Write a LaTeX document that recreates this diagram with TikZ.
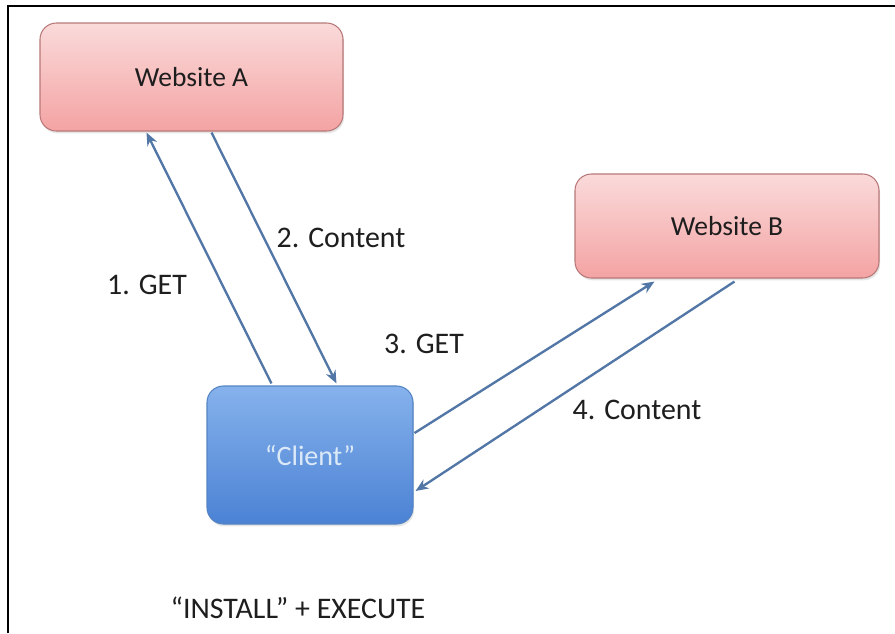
\documentclass[tikz,border=0pt]{standalone}
\usepackage{fontspec}
\setmainfont{Carlito}
\usetikzlibrary{arrows.meta,shadows}
\definecolor{pinktop}{HTML}{FADADA}
\definecolor{pinkbot}{HTML}{F4A3A3}
\definecolor{pinkline}{HTML}{B87878}
\definecolor{bluetop}{HTML}{86B2EC}
\definecolor{bluebot}{HTML}{4B82D4}
\definecolor{blueline}{HTML}{5584C4}
\definecolor{clienttext}{HTML}{DCEAF8}
\definecolor{arrowblue}{HTML}{5277A6}
\definecolor{labeltext}{HTML}{1E1E1E}
\tikzset{
    site/.style={rectangle, rounded corners=14pt, draw=pinkline, line width=0.9pt,
        top color=pinktop, bottom color=pinkbot, text=labeltext,
        font=\fontsize{23.5}{28}\selectfont,
        drop shadow={opacity=0.2, shadow xshift=1pt, shadow yshift=-2pt}},
    clientbox/.style={rectangle, rounded corners=14pt, draw=blueline, line width=0.9pt,
        top color=bluetop, bottom color=bluebot, text=clienttext,
        font=\fontsize{24}{28}\selectfont,
        drop shadow={opacity=0.2, shadow xshift=1pt, shadow yshift=-2pt}},
    lbl/.style={text=labeltext, font=\fontsize{25.5}{30}\selectfont, inner sep=0pt},
    arr/.style={draw=arrowblue, line width=2pt, -{Stealth[length=11pt,width=9pt]}}
}
\begin{document}
\begin{tikzpicture}[x=0.03cm, y=-0.03cm]
        \useasboundingbox (0,0) rectangle (895,633);
        \fill[white] (0,0) rectangle (895,633);
        \draw[line width=2.5pt, black] (8,633) -- (8,6) -- (895,6);
        \node (siteA) [site, minimum width=303*0.03cm, minimum height=108*0.03cm] at (191.5,77) {Website A};
        \node (siteB) [site, minimum width=304*0.03cm, minimum height=104*0.03cm] at (727,226) {Website B};
        \node (client) [clientbox, minimum width=206*0.03cm, minimum height=138*0.03cm] at (310,455) {“Client”};
        \node (get1) [lbl] at (147,285) {1. GET};
        \node (cont2) [lbl] at (341,238) {2. Content};
        \node (get3) [lbl] at (424,344) {3. GET};
        \node (cont4) [lbl] at (637,410) {4. Content};
        \node (install) [lbl] at (298,608) {“INSTALL” + EXECUTE};
        \draw ([shift={(65,-2)}]client.north west) edge [arr] ([shift={(107,1)}]siteA.south west);
        \draw ([shift={(172,1)}]siteA.south west) edge [arr] ([shift={(130,-2)}]client.north west);
        \draw ([shift={(1,-22)}]client.east) edge [arr] ([shift={(80,3)}]siteB.south west);
        \draw ([shift={(160,3)}]siteB.south west) edge [arr] ([shift={(2,36)}]client.east);
\end{tikzpicture}
\end{document}
